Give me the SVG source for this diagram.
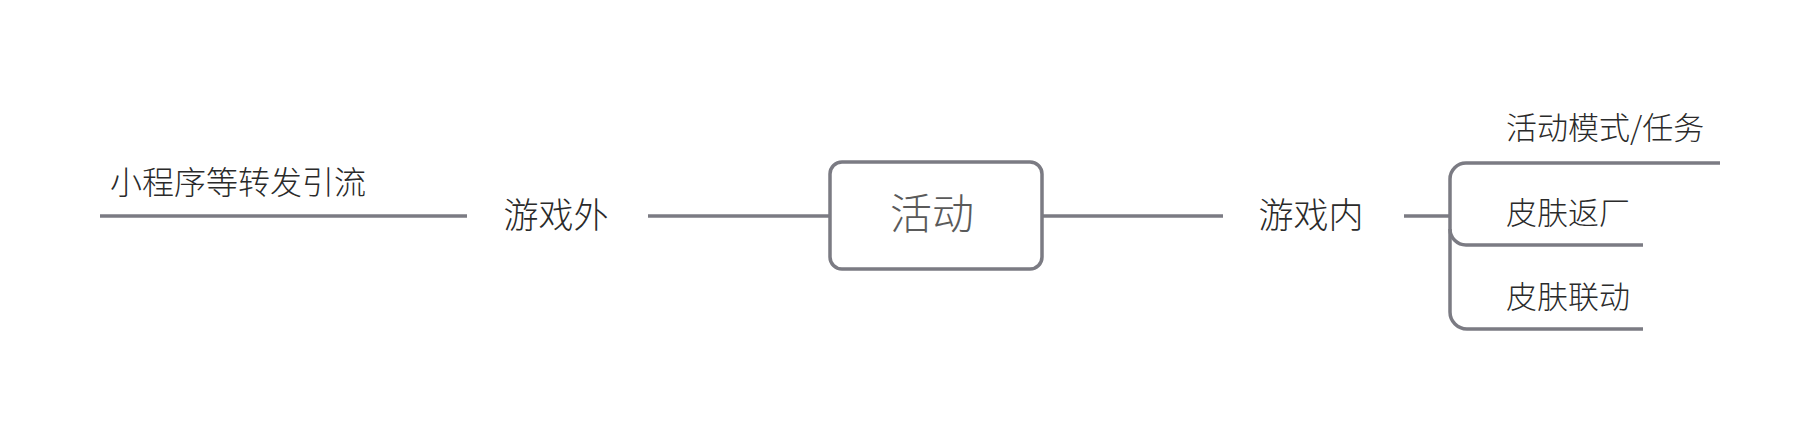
<svg xmlns="http://www.w3.org/2000/svg" width="1820" height="432" viewBox="0 0 1820 432">
<style>
.ln{fill:none;stroke:#7b7b83;stroke-width:3.5;stroke-linecap:butt}
.t{font-family:"Noto Sans CJK SC","Noto Sans",sans-serif;font-weight:300;fill:#2a2a2a;dominant-baseline:central}
</style>
<rect width="1820" height="432" fill="#fff"/>
<g id="connectors">
<path class="ln" d="M100,216 H467"/>
<path class="ln" d="M648,216 H830"/>
<path class="ln" d="M1042,216 H1223"/>
<path class="ln" d="M1404,216 H1450"/>
<path class="ln" d="M1720,163 H1466 A16,16 0 0 0 1450,179 V312 A17,17 0 0 0 1467,329 H1643"/>
<path class="ln" d="M1450,229 A16,16 0 0 0 1466,245 H1643"/>
</g>
<g id="node-root">
<rect x="830" y="162" width="212" height="107" rx="12" ry="12" fill="#fff" stroke="#7b7b83" stroke-width="3.5"/>
<text class="t" x="932" y="210" font-size="42" text-anchor="middle" style="fill:#5a5a5a">活动</text>
</g>
<g id="node-outside">
<text class="t" x="556" y="212" font-size="35" text-anchor="middle">游戏外</text>
</g>
<g id="node-miniprogram">
<text class="t" x="110" y="180" font-size="32">小程序等转发引流</text>
</g>
<g id="node-inside">
<text class="t" x="1311" y="212" font-size="35" text-anchor="middle">游戏内</text>
</g>
<g id="node-mode">
<text class="t" x="1506" y="125" font-size="31">活动模式/任务</text>
</g>
<g id="node-reskin">
<text class="t" x="1506" y="210" font-size="31">皮肤返厂</text>
</g>
<g id="node-collab">
<text class="t" x="1506" y="294" font-size="31">皮肤联动</text>
</g>
</svg>
